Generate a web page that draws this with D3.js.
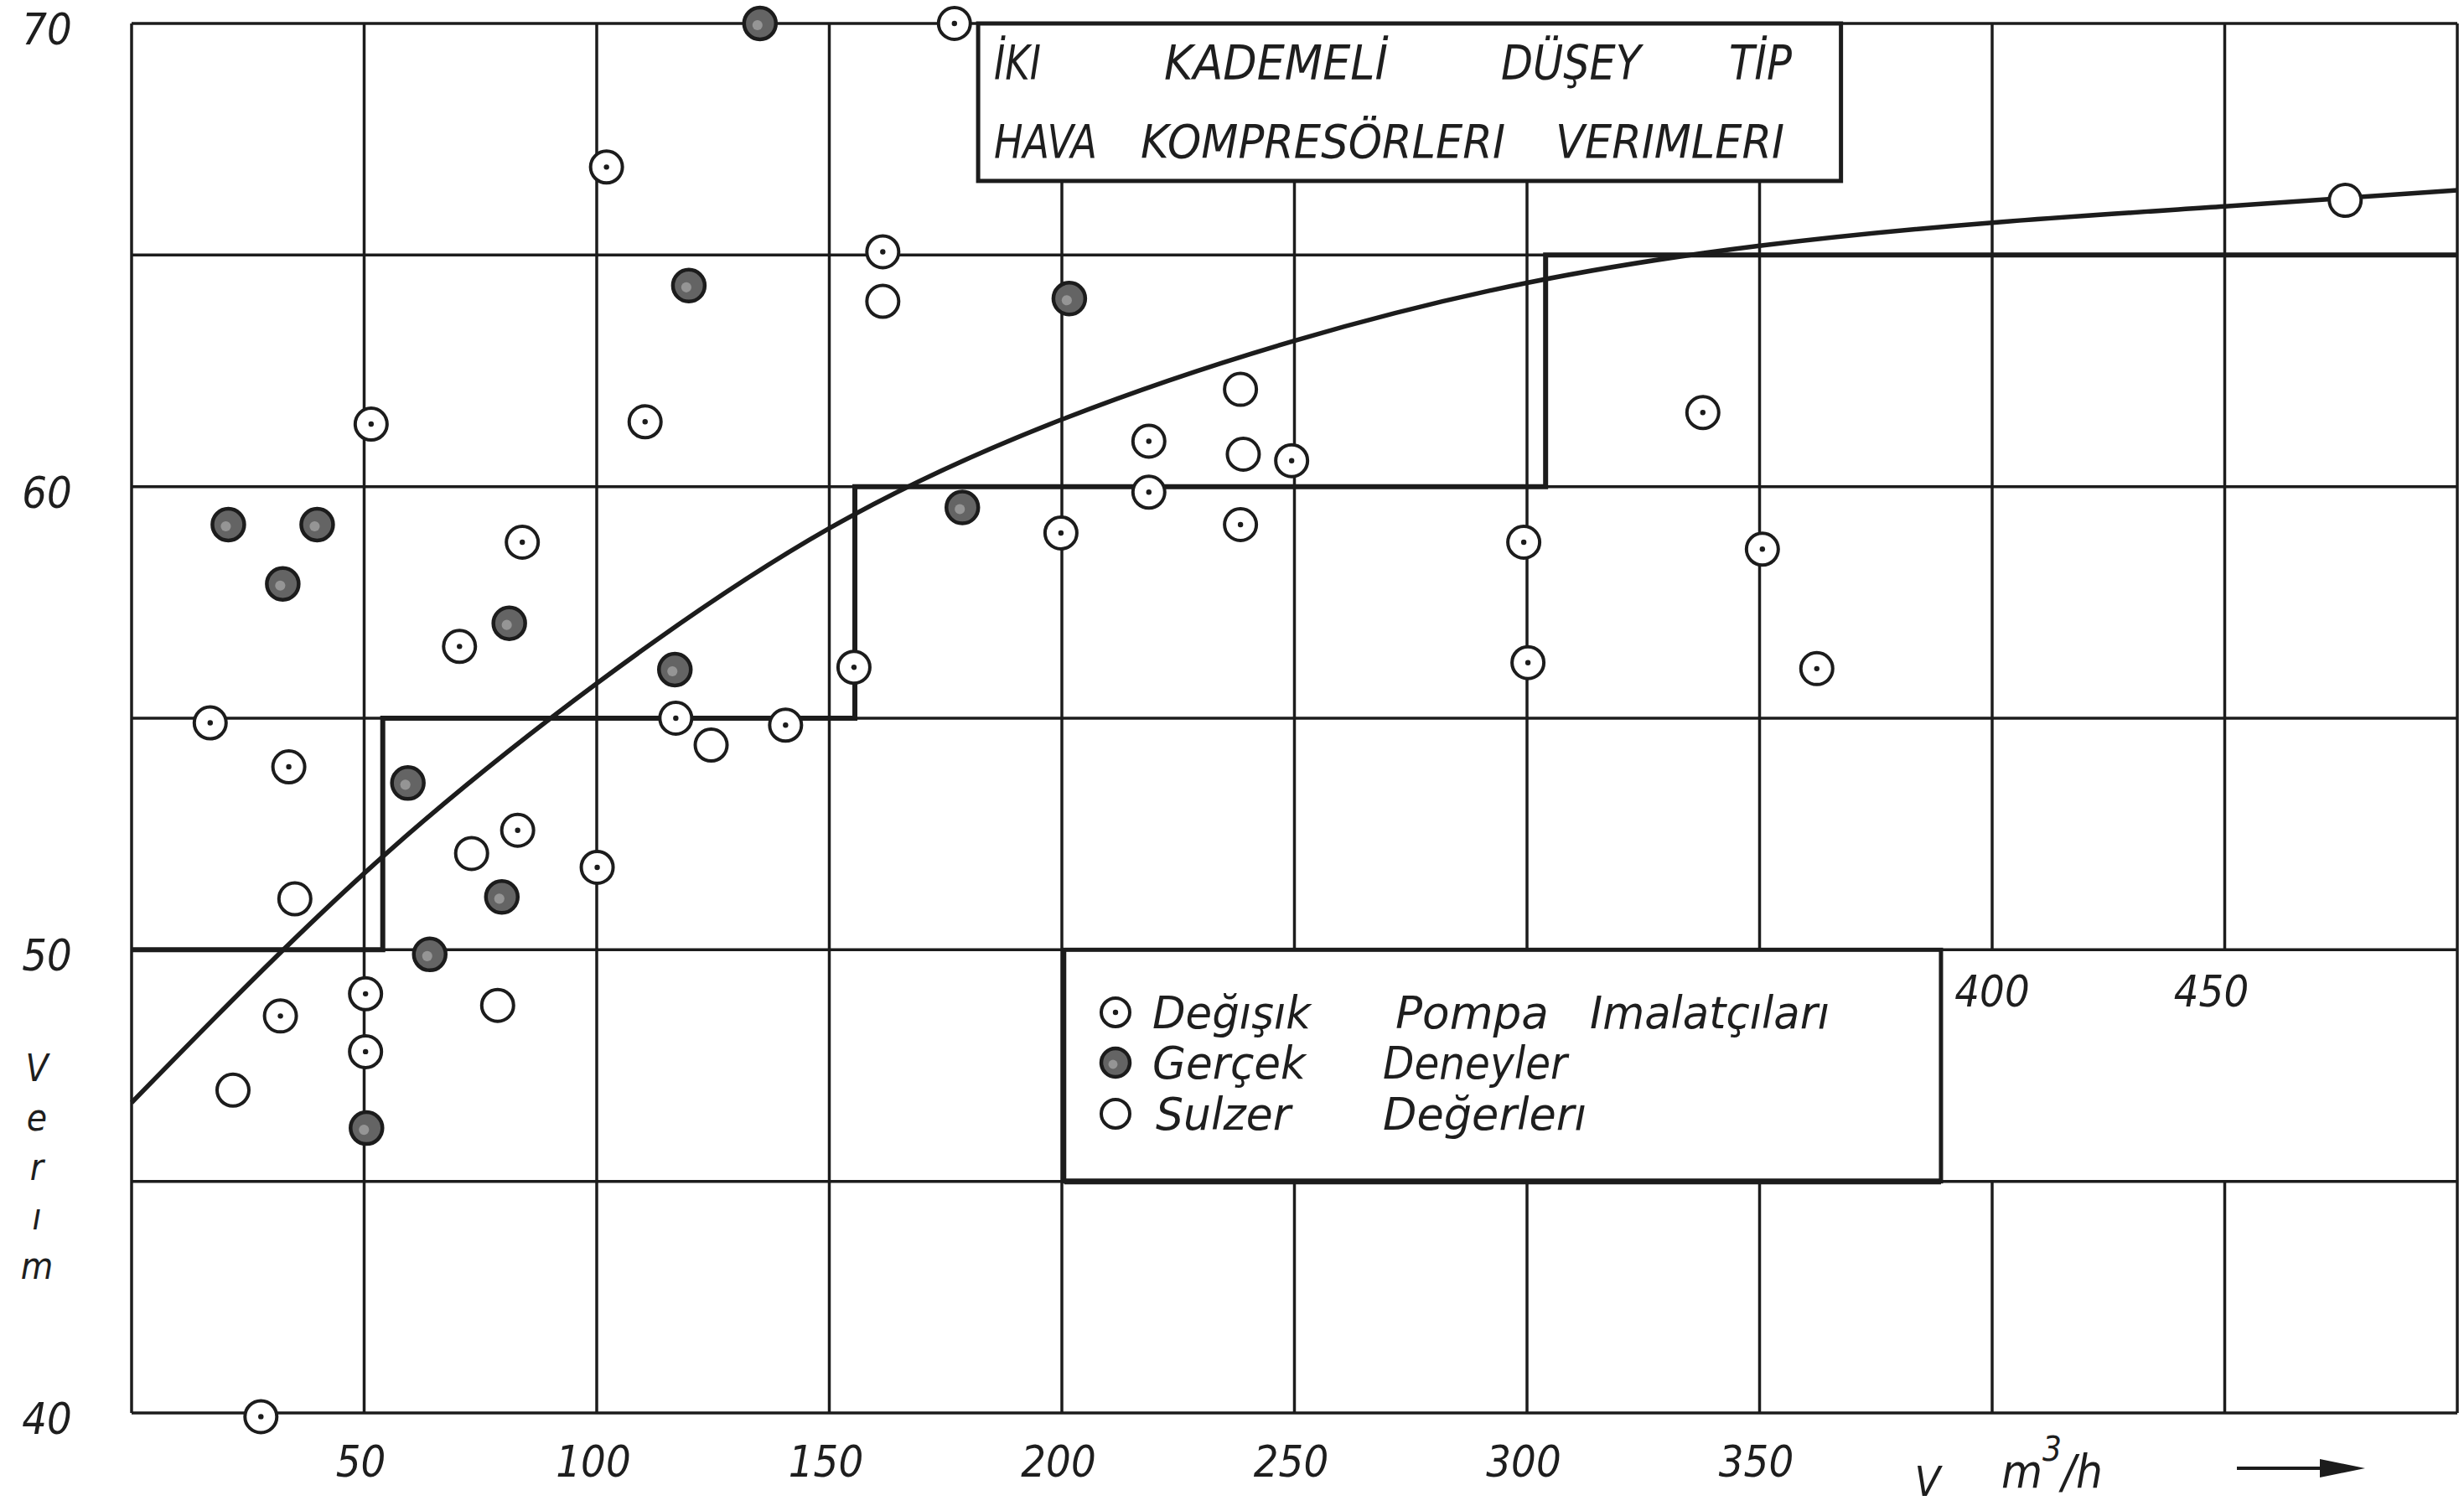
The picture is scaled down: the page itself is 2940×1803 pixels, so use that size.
<!DOCTYPE html>
<html>
<head>
<meta charset="utf-8">
<script src="https://cdn.jsdelivr.net/npm/d3@7"></script>
<style>
  html, body { margin: 0; padding: 0; background: #fff; }
  text { font-family: "Liberation Sans Narrow", "DejaVu Sans Condensed", sans-serif; font-style: italic; fill: #1e1e1e; }
</style>
</head>
<body>
<script>
// values (x: V m3/h, y: verim %)

// Değişik pompa imalatçıları (circle with a dot)
var pompaPoints = [
    [102.1, 66.9], [51.5, 61.35], [110.4, 61.4], [176.9, 70.0], [161.5, 65.07],
    [337.8, 61.6], [218.7, 60.98], [249.4, 60.56], [218.7, 59.88], [238.4, 59.18],
    [199.8, 59.0], [299.3, 58.8], [300.2, 56.2], [350.6, 58.65], [362.3, 56.07],
    [84.0, 58.8], [70.5, 56.55], [16.9, 54.9], [33.8, 53.95], [117.0, 55.0],
    [140.6, 54.85], [155.3, 56.1], [83.0, 52.58], [100.1, 51.78], [32.0, 48.57],
    [50.3, 49.05], [50.3, 47.8], [27.8, 39.92]
];

// Gerçek deneyler (filled circle)
var deneyPoints = [
    [135.1, 70.0], [119.8, 64.34], [201.6, 64.06], [178.6, 59.55], [20.8, 59.18],
    [39.9, 59.18], [32.5, 57.9], [81.2, 57.05], [116.8, 56.05], [59.4, 53.6],
    [79.6, 51.14], [64.1, 49.9], [50.5, 46.15]
];

// Sulzer değerleri (open circle)
var sulzerPoints = [
    [161.5, 64.0], [238.4, 62.1], [239.0, 60.7], [124.6, 54.42], [73.1, 52.08],
    [35.1, 51.1], [78.7, 48.8], [21.8, 46.97], [475.9, 66.18]
];

// mean curve
var curvePoints = [
    [0, 46.7], [50, 51.65], [100, 55.75], [150, 59.1], [200, 61.45],
    [250, 63.15], [300, 64.4], [350, 65.2], [400, 65.7], [450, 66.05], [500, 66.4]
];

// stepped line
var stepPoints = [[0, 50], [54, 55], [155.5, 60], [304, 65], [500, 65]];

var xGrid = [0, 50, 100, 150, 200, 250, 300, 350, 400, 450, 500];
var yGrid = [40, 45, 50, 55, 60, 65, 70];
var xTickLabels = [50, 100, 150, 200, 250, 300, 350];
var xInnerLabels = [400, 450];
var yTickLabels = [40, 50, 60, 70];

var titleLine1 = ["İKI", "KADEMELİ", "DÜŞEY", "TİP"];
var titleLine2 = ["HAVA", "KOMPRESÖRLERI", "VERIMLERI"];
var legendRows = [
    ["Değışık", "Pompa", "Imalatçıları"],
    ["Gerçek", "Deneyler"],
    ["Sulzer", "Değerlerı"]
];
var yTitle = ["V", "e", "r", "ı", "m"];

var width = 2940, height = 1803;
var ink = "#1c1c1c";

var x = d3.scaleLinear().domain([0, 500]).range([157, 2932]);
var y = d3.scaleLinear().domain([40, 70]).range([1686, 28]);

var svg = d3.select("body").append("svg")
    .attr("width", width)
    .attr("height", height);

svg.append("rect").attr("width", width).attr("height", height).attr("fill", "#fff");

//Grid
var grid = svg.append("g").attr("stroke", ink).attr("stroke-width", 3.5);

// verticals, the 400/450 lines are broken in the 45-50 band
var vSegs = [];
xGrid.forEach(function (v) {
    if (v === 400 || v === 450) {
        vSegs.push([v, 40, 45]);
        vSegs.push([v, 50, 70]);
    } else {
        vSegs.push([v, 40, 70]);
    }
});

grid.selectAll(".vgrid")
    .data(vSegs)
    .join("line")
    .attr("class", "vgrid")
    .attr("x1", d => x(d[0]))
    .attr("x2", d => x(d[0]))
    .attr("y1", d => y(d[1]))
    .attr("y2", d => y(d[2]));

grid.selectAll(".hgrid")
    .data(yGrid)
    .join("line")
    .attr("class", "hgrid")
    .attr("x1", x(0))
    .attr("x2", x(500))
    .attr("y1", d => y(d))
    .attr("y2", d => y(d));

//Title box
var titleBox = { x0: 182, x1: 367.5, y0: 66.6, y1: 70 };
svg.append("rect")
    .attr("x", x(titleBox.x0))
    .attr("y", y(titleBox.y1))
    .attr("width", x(titleBox.x1) - x(titleBox.x0))
    .attr("height", y(titleBox.y0) - y(titleBox.y1))
    .attr("fill", "#fff")
    .attr("stroke", ink)
    .attr("stroke-width", 5);

//Legend box
var legendBox = { x0: 200.5, x1: 389, y0: 45, y1: 50 };
svg.append("rect")
    .attr("x", x(legendBox.x0))
    .attr("y", y(legendBox.y1))
    .attr("width", x(legendBox.x1) - x(legendBox.x0))
    .attr("height", y(legendBox.y0) - y(legendBox.y1))
    .attr("fill", "#fff")
    .attr("stroke", ink)
    .attr("stroke-width", 5);
svg.append("line")
    .attr("x1", x(legendBox.x0)).attr("x2", x(legendBox.x1))
    .attr("y1", y(legendBox.y0)).attr("y2", y(legendBox.y0))
    .attr("stroke", ink).attr("stroke-width", 7);

//Step line and curve
svg.append("path")
    .datum(stepPoints)
    .attr("d", d3.line().x(d => x(d[0])).y(d => y(d[1])).curve(d3.curveStepAfter))
    .attr("fill", "none")
    .attr("stroke", ink)
    .attr("stroke-width", 6);

svg.append("path")
    .datum(curvePoints)
    .attr("d", d3.line().x(d => x(d[0])).y(d => y(d[1])).curve(d3.curveNatural))
    .attr("fill", "none")
    .attr("stroke", ink)
    .attr("stroke-width", 5.5);

//Points
var r = 19;

function drawPompa(g, rr) {
    g.append("circle").attr("r", rr).attr("fill", "#fff").attr("stroke", ink).attr("stroke-width", 4);
    g.append("circle").attr("r", 3.2).attr("fill", ink);
}
function drawDeney(g, rr) {
    g.append("circle").attr("r", rr).attr("fill", "#646464").attr("stroke", ink).attr("stroke-width", 4.5);
    g.append("circle").attr("r", rr * 0.32).attr("cx", -3).attr("cy", 2).attr("fill", "#959595");
}
function drawSulzer(g, rr) {
    g.append("circle").attr("r", rr).attr("fill", "#fff").attr("stroke", ink).attr("stroke-width", 4);
}

svg.append("g").selectAll("g")
    .data(pompaPoints)
    .join("g")
    .attr("transform", d => `translate(${x(d[0])},${y(d[1])})`)
    .each(function () { drawPompa(d3.select(this), r); });

svg.append("g").selectAll("g")
    .data(deneyPoints)
    .join("g")
    .attr("transform", d => `translate(${x(d[0])},${y(d[1])})`)
    .each(function () { drawDeney(d3.select(this), r); });

svg.append("g").selectAll("g")
    .data(sulzerPoints)
    .join("g")
    .attr("transform", d => `translate(${x(d[0])},${y(d[1])})`)
    .each(function () { drawSulzer(d3.select(this), r); });

//Title text
var t1x = [1186, 1389, 1791, 2063], t1w = [56, 267, 167, 75];
var t2x = [1186, 1361, 1856], t2w = [123, 435, 273];
svg.append("g").selectAll("text")
    .data(titleLine1)
    .join("text")
    .attr("x", (d, i) => t1x[i])
    .attr("y", 95)
    .attr("font-size", 57)
    .attr("textLength", (d, i) => t1w[i])
    .attr("lengthAdjust", "spacingAndGlyphs")
    .text(d => d);
svg.append("g").selectAll("text")
    .data(titleLine2)
    .join("text")
    .attr("x", (d, i) => t2x[i])
    .attr("y", 188)
    .attr("font-size", 55)
    .attr("textLength", (d, i) => t2w[i])
    .attr("lengthAdjust", "spacingAndGlyphs")
    .text(d => d);

//Legend
var legY = [1208, 1268, 1329];
var colX = [[1375, 1665, 1897], [1375, 1650], [1379, 1650]];
var colW = [[189, 183, 286], [183, 220], [161, 243]];
var legSym = [drawPompa, drawDeney, drawSulzer];

legendRows.forEach(function (row, i) {
    var g = svg.append("g").attr("transform", `translate(1331,${legY[i]})`);
    legSym[i](g, 17);
    row.forEach(function (word, j) {
        svg.append("text")
            .attr("x", colX[i][j])
            .attr("y", legY[i] + 19)
            .attr("font-size", 54)
            .attr("textLength", colW[i][j])
            .attr("lengthAdjust", "spacingAndGlyphs")
            .text(word);
    });
});

//Axis labels
svg.append("g").selectAll("text")
    .data(xTickLabels)
    .join("text")
    .attr("x", d => x(d) - 4)
    .attr("y", 1762)
    .attr("text-anchor", "middle")
    .attr("font-size", 52)
    .text(d => d);

svg.append("g").selectAll("text")
    .data(xInnerLabels)
    .join("text")
    .attr("x", (d, i) => x(d) - (i === 0 ? 0 : 16))
    .attr("y", 1201)
    .attr("text-anchor", "middle")
    .attr("font-size", 52)
    .text(d => d);

svg.append("g").selectAll("text")
    .data(yTickLabels)
    .join("text")
    .attr("x", 56)
    .attr("y", d => y(d) + 25)
    .attr("text-anchor", "middle")
    .attr("font-size", 52)
    .text(d => d);

// vertical "Verim" title, one letter per line
svg.append("g").selectAll("text")
    .data(yTitle)
    .join("text")
    .attr("x", 44)
    .attr("y", (d, i) => 1290 + i * 59)
    .attr("text-anchor", "middle")
    .attr("font-size", 44)
    .text(d => d);

// V m3/h with arrow
svg.append("text").attr("x", 2300).attr("y", 1785).attr("text-anchor", "middle").attr("font-size", 50).text("V");
var unit = svg.append("text").attr("x", 2388).attr("y", 1775).attr("font-size", 56);
unit.append("tspan").text("m");
unit.append("tspan").attr("dy", -32).attr("font-size", 40).text("3");
unit.append("tspan").attr("dy", 32).text("/h");

svg.append("line")
    .attr("x1", 2669).attr("x2", 2780)
    .attr("y1", 1752).attr("y2", 1752)
    .attr("stroke", ink).attr("stroke-width", 4);
svg.append("path")
    .attr("d", "M2768,1741 L2822,1752 L2768,1763 Z")
    .attr("fill", ink);
</script>
</body>
</html>
